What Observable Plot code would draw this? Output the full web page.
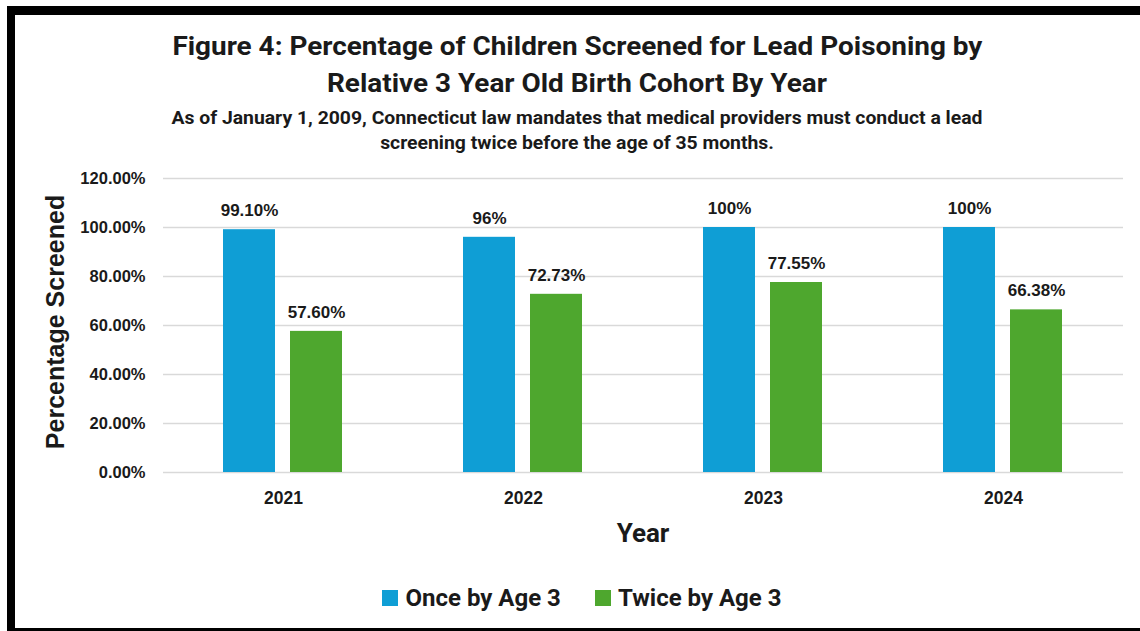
<!DOCTYPE html>
<html>
<head>
<meta charset="utf-8">
<script src="https://cdn.jsdelivr.net/npm/d3@7"></script>
<script src="https://cdn.jsdelivr.net/npm/@observablehq/plot@0.6"></script>
<style>
  html, body { margin: 0; padding: 0; background: #fff; }
  #page { position: relative; width: 1140px; height: 631px; overflow: hidden; background: #fff; }
  #frame { position: absolute; left: 7px; top: 6px; width: 1300px; height: 613px;
           border-left: 8px solid #000; border-top: 9px solid #000; border-bottom: 8px solid #000; }
  .line { position: absolute; left: 0; width: 1154px; text-align: center; white-space: nowrap;
          color: #1a1a1a; font-weight: 700; }
  .line span { display: inline-block; transform-origin: center; }
  .title { font-family: Roboto, "Open Sans", sans-serif; font-size: 26px; line-height: 37px; }
  .subtitle { font-family: Roboto, "Open Sans", sans-serif; font-size: 18px; line-height: 25px; }
  #ytitle { position: absolute; left: 55px; top: 322px; transform: translate(-50%, -50%) rotate(-90deg);
            font-family: "Liberation Sans", Arial, sans-serif; font-weight: 700; font-size: 25px;
            color: #1a1a1a; white-space: nowrap; }
  #xtitle { position: absolute; left: 643px; top: 533px; transform: translate(-50%, -50%);
            font-family: Roboto, "Open Sans", sans-serif; font-weight: 700; font-size: 26px; color: #1a1a1a; }
  #legend { position: absolute; left: 0; width: 1164px; top: 584px; text-align: center;
            font-family: Roboto, "Open Sans", sans-serif; font-weight: 700; font-size: 24px; color: #1a1a1a; white-space: nowrap; }
  #legend .item { display: inline-flex; align-items: center; margin: 0 17px; }
  #legend .sw { width: 16px; height: 16px; margin-right: 7px; display: inline-block; }
  #chart { position: absolute; left: 15px; top: 160px; }
  #chart g[aria-label="fx-axis tick label"] text { font-size: 17.5px; }
</style>
</head>
<body>
<div id="page">
  <div id="frame"></div>
  <div class="line title" style="top:28px"><span class="t">Figure 4: Percentage of Children Screened for Lead Poisoning by</span></div>
  <div class="line title" style="top:65px"><span class="t">Relative 3 Year Old Birth Cohort By Year</span></div>
  <div class="line subtitle" style="top:105px"><span class="s">As of January 1, 2009, Connecticut law mandates that medical providers must conduct a lead</span></div>
  <div class="line subtitle" style="top:130px"><span class="s">screening twice before the age of 35 months.</span></div>
  <div id="ytitle">Percentage Screened</div>
  <div id="chart"></div>
  <div id="xtitle">Year</div>
  <div id="legend"></div>
</div>
<script>
// Cohort years and screening series
const years = ["2021", "2022", "2023", "2024"];
const series = ["Once by Age 3", "Twice by Age 3"];
const onceValues = [99.10, 96, 100, 100];
const twiceValues = [57.60, 72.73, 77.55, 66.38];
const onceLabels = ["99.10%", "96%", "100%", "100%"];
const twiceLabels = ["57.60%", "72.73%", "77.55%", "66.38%"];
const seriesColors = ["#0F9ED5", "#4EA72E"];
const yTicks = [0, 20, 40, 60, 80, 100, 120];

const rows = [];
years.forEach((year, i) => {
  rows.push({year, series: series[0], value: onceValues[i], label: onceLabels[i]});
  rows.push({year, series: series[1], value: twiceValues[i], label: twiceLabels[i]});
});

const chart = Plot.plot({
  width: 1125,
  height: 360,
  marginTop: 18,
  marginBottom: 48,
  marginLeft: 148,
  marginRight: 17,
  style: {
    fontFamily: "'Liberation Sans', Arial, sans-serif",
    fontWeight: "bold",
    fontSize: "16.5px",
    color: "#1a1a1a",
    background: "transparent",
    overflow: "visible"
  },
  fx: {domain: years, padding: 0, label: null, tickSize: 0, tickPadding: 19},
  x: {domain: series, paddingInner: 0.22, paddingOuter: 0.875, axis: null},
  y: {domain: [0, 120], ticks: yTicks, tickFormat: d => d.toFixed(2) + "%", label: null, tickSize: 0, tickPadding: 18},
  color: {domain: series, range: seriesColors},
  marks: [
    Plot.gridY(yTicks, {stroke: "#d9d9d9", strokeOpacity: 1, strokeWidth: 1.5}),
    Plot.barY(rows, {fx: "year", x: "series", y: "value", fill: "series"}),
    Plot.text(rows, {fx: "year", x: "series", y: "value", text: "label", dy: -19,
                     fontSize: 17, fontWeight: "bold", fill: "#1a1a1a"})
  ]
});
document.getElementById("chart").appendChild(chart);

// Legend built from the same series and colours
const legend = document.getElementById("legend");
series.forEach((name, i) => {
  const item = document.createElement("span");
  item.className = "item";
  const sw = document.createElement("span");
  sw.className = "sw";
  sw.style.background = seriesColors[i];
  item.appendChild(sw);
  item.appendChild(document.createTextNode(name));
  legend.appendChild(item);
});

// Narrow the heading fonts so each block keeps its intended line width
function fitBlock(selector, targetWidth) {
  const spans = document.querySelectorAll(selector);
  const w = spans[0].getBoundingClientRect().width;
  const k = targetWidth / w;
  spans.forEach(s => s.style.transform = `scaleX(${k})`);
}
fitBlock(".t", 810);
fitBlock(".s", 811);
</script>
</body>
</html>
